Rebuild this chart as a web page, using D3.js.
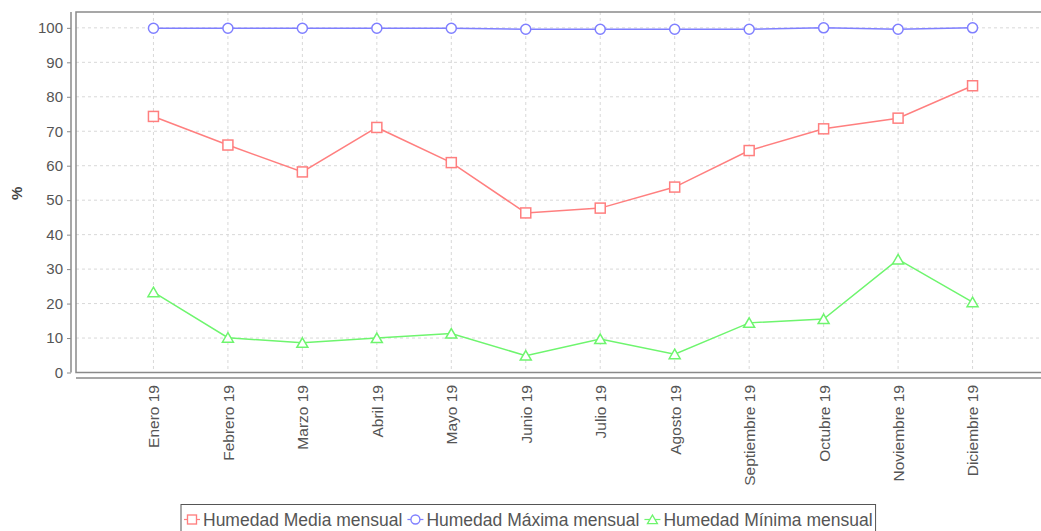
<!DOCTYPE html>
<html>
<head>
<meta charset="utf-8">
<script src="https://cdn.jsdelivr.net/npm/d3@7"></script>
<style>
  body { margin: 0; background: #fff; }
  svg { display: block; font-family: "Liberation Sans", Arial, sans-serif; }
</style>
</head>
<body>
<svg id="chart" width="1041" height="531"></svg>
<script>
// data
var months = ["Enero 19", "Febrero 19", "Marzo 19", "Abril 19", "Mayo 19", "Junio 19",
  "Julio 19", "Agosto 19", "Septiembre 19", "Octubre 19", "Noviembre 19", "Diciembre 19"];
var media  = [74.3, 66.0, 58.2, 71.1, 60.9, 46.3, 47.7, 53.8, 64.4, 70.7, 73.8, 83.2];
var maxima = [99.9, 99.9, 99.9, 99.9, 99.9, 99.6, 99.6, 99.6, 99.6, 100, 99.6, 100];
var minima = [23.3, 10.1, 8.6, 10.0, 11.3, 4.9, 9.7, 5.3, 14.4, 15.5, 32.8, 20.4];
var yTicks = [0, 10, 20, 30, 40, 50, 60, 70, 80, 90, 100];
var seriesNames = ["Humedad Media mensual", "Humedad Máxima mensual", "Humedad Mínima mensual"];

var series = [
  { name: seriesNames[0], values: media,  color: "#ff7f7f", shape: "square" },
  { name: seriesNames[1], values: maxima, color: "#7f7fff", shape: "circle" },
  { name: seriesNames[2], values: minima, color: "#6ef56e", shape: "triangle" }
];

var margin = { top: 12, left: 76 },
    width = 974,
    height = 360.5;

var svg = d3.select("#chart");
var g = svg.append("g").attr("transform", "translate(" + margin.left + "," + margin.top + ")");

var x = d3.scalePoint().domain(months).range([0, width]).padding(1.04);
var y = d3.scaleLinear().domain([0, 104.6]).range([height, 0]);

// grid
g.append("g").selectAll("line").data(yTicks.slice(1)).join("line")
  .attr("x1", 0).attr("x2", width)
  .attr("y1", d => y(d)).attr("y2", d => y(d))
  .attr("stroke", "#d8d8d8").attr("stroke-dasharray", "3,3");
g.append("g").selectAll("line").data(months).join("line")
  .attr("x1", d => x(d)).attr("x2", d => x(d))
  .attr("y1", 0).attr("y2", height)
  .attr("stroke", "#d8d8d8").attr("stroke-dasharray", "3,3");

// plot outline
g.append("rect").attr("x", 0).attr("y", 0).attr("width", width).attr("height", height)
  .attr("fill", "none").attr("stroke", "#8a8a8a").attr("stroke-width", 1.5);

// y axis
var yAxis = g.append("g").attr("transform", "translate(-5,0)")
  .call(d3.axisLeft(y).tickValues(yTicks).tickSize(4).tickPadding(4).tickSizeOuter(0));
yAxis.select(".domain").attr("stroke", "#8a8a8a").attr("stroke-width", 1.5)
  .attr("d", "M0," + y(0) + "V0");
yAxis.selectAll(".tick line").attr("stroke", "#8a8a8a");
yAxis.selectAll(".tick text").attr("fill", "#555").style("font-size", "15px");

// x axis
var xAxis = g.append("g").attr("transform", "translate(0," + (height + 5.5) + ")")
  .call(d3.axisBottom(x).tickSize(0).tickPadding(0));
xAxis.select(".domain").attr("stroke", "#8a8a8a").attr("stroke-width", 1.5)
  .attr("d", "M0,0H" + width);
xAxis.selectAll(".tick text")
  .attr("fill", "#555").style("font-size", "15.5px")
  .attr("text-anchor", "end")
  .attr("transform", "rotate(-90)")
  .attr("x", -7).attr("y", 0).attr("dy", "0.35em");

// y label
svg.append("text")
  .attr("transform", "translate(17," + (margin.top + y(52)) + ") rotate(-90)")
  .attr("text-anchor", "middle").attr("dy", "0.35em")
  .attr("font-weight", "bold").attr("fill", "#444").style("font-size", "15px")
  .text("%");

function marker(sel, shape, color) {
  if (shape === "square") {
    sel.append("rect").attr("x", -5).attr("y", -5).attr("width", 10).attr("height", 10);
  } else if (shape === "circle") {
    sel.append("circle").attr("r", 5);
  } else {
    sel.append("path").attr("d", "M0,-5L5.5,4.5L-5.5,4.5Z");
  }
  sel.selectAll("*").attr("fill", "#fff").attr("stroke", color).attr("stroke-width", 1.5);
}

var line = d3.line().x((d, i) => x(months[i])).y(d => y(d));

series.forEach(s => {
  g.append("path").datum(s.values)
    .attr("fill", "none").attr("stroke", s.color).attr("stroke-width", 1.5)
    .attr("d", line);
  g.append("g").selectAll("g").data(s.values).join("g")
    .attr("transform", (d, i) => "translate(" + x(months[i]) + "," + y(d) + ")")
    .each(function () { marker(d3.select(this), s.shape, s.color); });
});

// legend
var legend = svg.append("g");
var lx = 3;
series.forEach(s => {
  var item = legend.append("g").attr("transform", "translate(" + lx + ",0)");
  item.append("line").attr("x1", 0).attr("x2", 16).attr("y1", 0).attr("y2", 0)
    .attr("stroke", s.color).attr("stroke-width", 1.2);
  var m = item.append("g").attr("transform", "translate(8,0) scale(0.9)");
  marker(m, s.shape, s.color);
  var t = item.append("text").attr("x", 19).attr("dy", "0.35em")
    .attr("fill", "#555").style("font-size", "17.5px").text(s.name);
  lx += 19 + t.node().getComputedTextLength() + 5;
});
var lw = lx - 2;
legend.insert("rect", ":first-child")
  .attr("x", 0).attr("y", -15).attr("width", lw).attr("height", 40)
  .attr("fill", "#fff").attr("stroke", "#555");
legend.attr("transform", "translate(" + Math.round(528.5 - lw / 2) + ",519.5)");
</script>
</body>
</html>
